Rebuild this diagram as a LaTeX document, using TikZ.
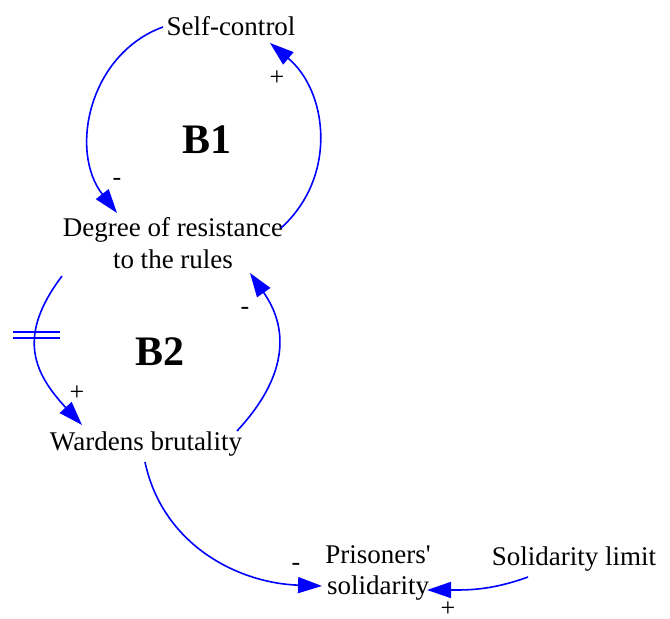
\documentclass[tikz,border=0pt]{standalone}
\usepackage{fontspec}
\setmainfont{Liberation Serif}
\usetikzlibrary{arrows.meta}
\newcommand{\delaymark}{\draw[link] (-23.5,3) -- (23.5,3);
					\draw[link] (-23.5,-3) -- (23.5,-3);}
\tikzset{
	var/.style={font=\fontsize{13.5}{15.75}\selectfont, align=center, inner sep=0pt},
	link/.style={draw=blue, line width=0.8pt},
	causal/.style={link, -{Triangle[length=12pt,width=8pt]}},
	sign/.style={font=\fontsize{13}{15}\selectfont, inner sep=0pt},
	loopname/.style={font=\fontsize{21}{25}\selectfont\bfseries, inner sep=0pt}
}

\begin{document}
\begin{tikzpicture}[x=0.5pt, y=0.5pt]

					\useasboundingbox (0,0) rectangle (670,-619);

					\node[var] (sc) at (231,-26) {Self-control};
					\node[var] (dr) at (173,-243) {Degree of resistance\\to the rules};
					\node[var] (wb) at (146,-444) {Wardens brutality};
					\node[var] (ps) at (378,-573) {Prisoners\textquotesingle\\solidarity};
					\node[var] (sl) at (574,-559) {Solidarity limit};

					\node[loopname] (b1) at (207,-140) {B1};
					\node[loopname] (b2) at (160,-352) {B2};

					\draw[causal] ([shift={(-68,-1)}]sc.center) to[out=200, in=128, looseness=1.05] ([shift={(-56,30)}]dr.center);
					\draw[causal] ([shift={(108,15)}]dr.center) to[out=42, in=-40, looseness=1.05] ([shift={(39,-17)}]sc.center);
					\draw[causal] ([shift={(-111,-33)}]dr.center) to[out=233, in=133, looseness=1.25] ([shift={(-64,19)}]wb.center);
					\draw[causal] ([shift={(91,13)}]wb.center) to[out=47, in=-55, looseness=1.15] ([shift={(77,-30)}]dr.center);
					\draw[causal] ([shift={(-1,-18)}]wb.center) to[out=-78, in=178] ([shift={(-56,-13)}]ps.center);
					\draw[causal] ([shift={(-46,-18)}]sl.center) to[out=200, in=0] ([shift={(49,-17)}]ps.center);

					\begin{scope}[shift={(36,-335)}]
						\delaymark
					\end{scope}

					\node[sign] (p1) at (117,-182) {-};
					\node[sign] (p2) at (277,-78) {+};
					\node[sign] (p3) at (77,-393) {+};
					\node[sign] (p4) at (245,-311) {-};
					\node[sign] (p5) at (296,-567) {-};
					\node[sign] (p6) at (448,-609) {+};

				\end{tikzpicture}
\end{document}
